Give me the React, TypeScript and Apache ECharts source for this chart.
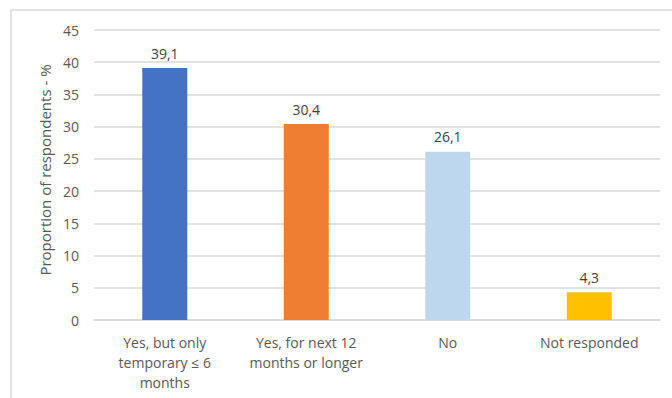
import React, { useEffect, useRef } from "react";
import * as echarts from "echarts";

const categories = [
  "Yes, but only\ntemporary ≤ 6\nmonths",
  "Yes, for next 12\nmonths or longer",
  "No",
  "Not responded",
];
const values = [39.1, 30.4, 26.1, 4.3];
const barColors = ["#4472C4", "#ED7D31", "#BDD7EE", "#FFC000"];
const yTicks = { min: 0, max: 45, interval: 5 };
const yTitle = "Proportion of respondents - %";

const FONT = "'Open Sans', sans-serif";

export default function App() {
  const ref = useRef<HTMLDivElement>(null);

  useEffect(() => {
    document.body.style.margin = "0";
    const chart = echarts.init(ref.current!, null, { renderer: "svg" });
    chart.setOption({
      animation: false,
      backgroundColor: "#ffffff",
      textStyle: { fontFamily: FONT },
      graphic: [
        {
          type: "rect",
          shape: { x: 11, y: 10, width: 700, height: 420 },
          style: { fill: "none", stroke: "#d9d9d9", lineWidth: 1.5 },
          silent: true,
        },
      ],
      grid: { left: 94, right: 12, top: 30, bottom: 78 },
      xAxis: {
        type: "category",
        data: categories,
        axisLine: { show: true, lineStyle: { color: "#d9d9d9", width: 1.5 } },
        axisTick: { show: false },
        axisLabel: {
          color: "#595959",
          fontSize: 14,
          fontFamily: FONT,
          lineHeight: 20,
          margin: 12,
          interval: 0,
        },
      },
      yAxis: {
        type: "value",
        min: yTicks.min,
        max: yTicks.max,
        interval: yTicks.interval,
        name: yTitle,
        nameLocation: "middle",
        nameGap: 40,
        nameRotate: 90,
        nameTextStyle: {
          color: "#595959",
          fontSize: 15,
          fontFamily: FONT,
          padding: [0, 0, 0, 10],
        },
        axisLine: { show: false },
        axisTick: { show: false },
        axisLabel: { color: "#595959", fontSize: 14, fontFamily: FONT, margin: 15 },
        splitLine: { lineStyle: { color: "#d9d9d9", width: 1.5 } },
      },
      series: [
        {
          type: "bar",
          barWidth: 45,
          data: values.map((v, i) => ({ value: v, itemStyle: { color: barColors[i] } })),
          label: {
            show: true,
            position: "top",
            distance: 8,
            color: "#404040",
            fontSize: 14,
            fontFamily: FONT,
            formatter: (p: any) => String(p.value).replace(".", ","),
          },
        },
      ],
    });
    return () => chart.dispose();
  }, []);

  return <div ref={ref} style={{ width: 672, height: 398 }} />;
}
